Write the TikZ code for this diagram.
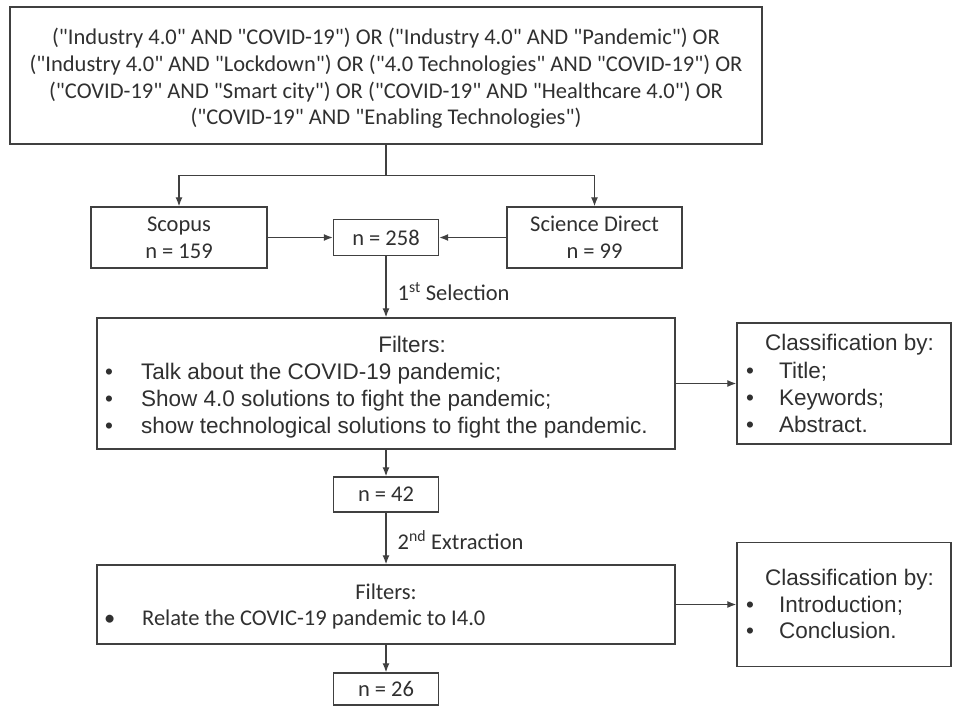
\documentclass[tikz,border=0pt]{standalone}
\usepackage{fontspec}
\setmainfont{Carlito}
\newfontfamily\arialfont{Liberation Sans}
\usetikzlibrary{arrows.meta}
\definecolor{linegray}{HTML}{404040}
\definecolor{inkgray}{HTML}{303030}
\newcommand\calsize{\fontsize{22.5}{27}\selectfont}
\newcommand\arialsize{\arialfont\fontsize{22.5}{27}\selectfont}
\newcommand\bulA[1]{\makebox[#1][l]{\textbullet}}
\newcommand\qt[1]{\textquotedbl#1\textquotedbl}
\begin{document}
\begin{tikzpicture}[x=1pt,y=-1pt,
  box/.style={draw=linegray, line width=1.4pt, inner sep=0pt, text=inkgray,
    align=center, font=\calsize},
  arr/.style={draw=linegray, line width=1.3pt, -{Latex[length=9pt,width=7pt]}},
  conn/.style={draw=linegray, line width=1.3pt},
  lbl/.style={anchor=west, inner sep=0pt, xshift=11pt, text=inkgray, font=\calsize},
  txtA/.style={inner sep=0pt, text=inkgray, font=\arialsize},
  txtC/.style={inner sep=0pt, text=inkgray, font=\calsize}]
\useasboundingbox (0,0) rectangle (955,706);
\fill[white] (0,0) rectangle (955,706);

% search string
\node[box, minimum width=752pt, minimum height=137pt] (query) at (386,75.5) {};
\node[txtC, align=center, font=\fontsize{22.5}{26.7}\selectfont] (querytext) at (386,78.5)
  {(\qt{Industry 4.0} AND \qt{COVID-19}) OR (\qt{Industry 4.0} AND \qt{Pandemic}) OR\\
   (\qt{Industry 4.0} AND \qt{Lockdown}) OR (\qt{4.0 Technologies} AND \qt{COVID-19}) OR\\
   (\qt{COVID-19} AND \qt{Smart city}) OR (\qt{COVID-19} AND \qt{Healthcare 4.0}) OR\\
   (\qt{COVID-19} AND \qt{Enabling Technologies})};

% databases and first count
\node[box, minimum width=176pt, minimum height=61pt] (scopus) at (179,237.5) {Scopus\\n = 159};
\node[box, minimum width=175pt, minimum height=61pt] (sd) at (594.5,237.5) {Science Direct\\n = 99};
\node[box, minimum width=105pt, minimum height=36pt] (n258) at (386,237.5) {n = 258};

% first filtering stage
\node[box, minimum width=578pt, minimum height=131pt] (filt1) at (386,383.5) {};
\node[txtA, anchor=base] (f1head) at (412,352) {Filters:};
\node[txtA, anchor=base west] (f1a) at (105,379) {\bulA{36pt}Talk about the COVID-19 pandemic;};
\node[txtA, anchor=base west] (f1b) at (105,406) {\bulA{36pt}Show 4.0 solutions to fight the pandemic;};
\node[txtA, anchor=base west] (f1c) at (105,433) {\bulA{36pt}show technological solutions to fight the pandemic.};

\node[box, minimum width=214pt, minimum height=121pt] (class1) at (844,383.5) {};
\node[txtA, anchor=base west] (c1head) at (765,350) {Classification by:};
\node[txtA, anchor=base west] (c1a) at (746,378) {\bulA{33pt}Title;};
\node[txtA, anchor=base west] (c1b) at (746,405) {\bulA{33pt}Keywords;};
\node[txtA, anchor=base west] (c1c) at (746,432) {\bulA{33pt}Abstract.};

\node[box, minimum width=105pt, minimum height=35pt] (n42) at (386,494.5) {n = 42};

% second filtering stage
\node[box, minimum width=578pt, minimum height=79pt] (filt2) at (386,604.5) {};
\node[txtC, anchor=base] (f2head) at (386,599) {Filters:};
\node[txtC, anchor=base west] (f2a) at (104,625) {\bulA{38pt}Relate the COVIC-19 pandemic to I4.0};

\node[box, minimum width=214pt, minimum height=124pt] (class2) at (844,604.5) {};
\node[txtA, anchor=base west] (c2head) at (765,585) {Classification by:};
\node[txtA, anchor=base west] (c2a) at (746,612) {\bulA{33pt}Introduction;};
\node[txtA, anchor=base west] (c2b) at (746,638) {\bulA{33pt}Conclusion.};

\node[box, minimum width=105pt, minimum height=32pt] (n26) at (386,689) {n = 26};

% connectors
\draw[conn] (query.south) -- ++(0,31) coordinate (split);
\draw[arr] (split) -| (scopus.north);
\draw[arr] (split) -| (sd.north);
\draw[arr] (scopus.east) -- (n258.west);
\draw[arr] (sd.west) -- (n258.east);
\draw[arr] (n258.south) -- node[lbl, pos=0.58] {1\textsuperscript{st} Selection} (filt1.north);
\draw[arr] (filt1.east) -- (class1.west);
\draw[arr] (filt1.south) -- (n42.north);
\draw[arr] (n42.south) -- node[lbl, pos=0.53] {2\textsuperscript{nd} Extraction} (filt2.north);
\draw[arr] (filt2.east) -- (class2.west);
\draw[arr] (filt2.south) -- (n26.north);
\end{tikzpicture}
\end{document}
